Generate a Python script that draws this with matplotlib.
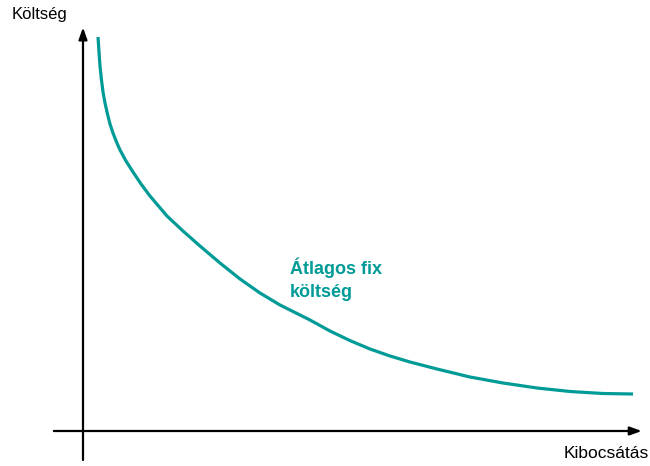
import matplotlib
matplotlib.use("Agg")
import matplotlib.pyplot as plt

# Average fixed cost curve (output, cost), arbitrary units
output = [2.73, 2.91, 3.09, 3.36, 3.64, 4.0, 4.45, 4.91, 5.45, 6.09, 6.73,
          7.82, 9.09, 10.55, 12.18, 15.27, 18.18, 21.27, 24.91, 28.55, 32.18,
          35.82, 41.27, 44.91, 48.55, 52.18, 55.82, 59.45, 64.36, 70.36,
          76.36, 82.55, 88.55, 94.55, 100.0]
cost = [98.5, 94.75, 91.25, 87.75, 84.75, 82.0, 79.25, 76.75, 74.5, 72.25,
        70.25, 67.5, 64.75, 61.75, 58.75, 53.75, 50.0, 46.25, 42.0, 38.0,
        34.5, 31.5, 27.75, 25.0, 22.6, 20.5, 18.75, 17.25, 15.5, 13.5,
        12.0, 10.75, 9.875, 9.375, 9.25]

y_label = "Költség"
x_label = "Kibocsátás"
curve_label = "Átlagos fix\nköltség"

TEAL = "#009b96"

plt.rcParams["font.family"] = ["Liberation Sans", "DejaVu Sans"]

fig = plt.figure(figsize=(6.5, 4.66), dpi=100)
ax = fig.add_axes([0, 0, 1, 1])
ax.set_xlim(-15.09, 103.09)
ax.set_ylim(-8.75, 107.75)
ax.axis("off")

# axes with arrow heads
arrow = dict(arrowstyle="-|>,head_length=0.7,head_width=0.25", color="black",
             lw=1.6, shrinkA=0, shrinkB=0)
ax.annotate("", xy=(101.6, 0), xytext=(-5.3, 0), arrowprops=arrow)
ax.annotate("", xy=(0, 100.9), xytext=(0, -7.25), arrowprops=arrow)

ax.plot(output, cost, color=TEAL, lw=2.3, solid_capstyle="butt",
        solid_joinstyle="round")

ax.text(-12.9, 104, y_label, fontsize=12, ha="left", va="center")
ax.text(87.3, -5.5, x_label, fontsize=12.5, ha="left", va="center")
ax.text(37.6, 43.4, curve_label, fontsize=13, fontweight="bold", color=TEAL,
        ha="left", va="top", linespacing=1.45)

fig.savefig("out.png", dpi=100)
